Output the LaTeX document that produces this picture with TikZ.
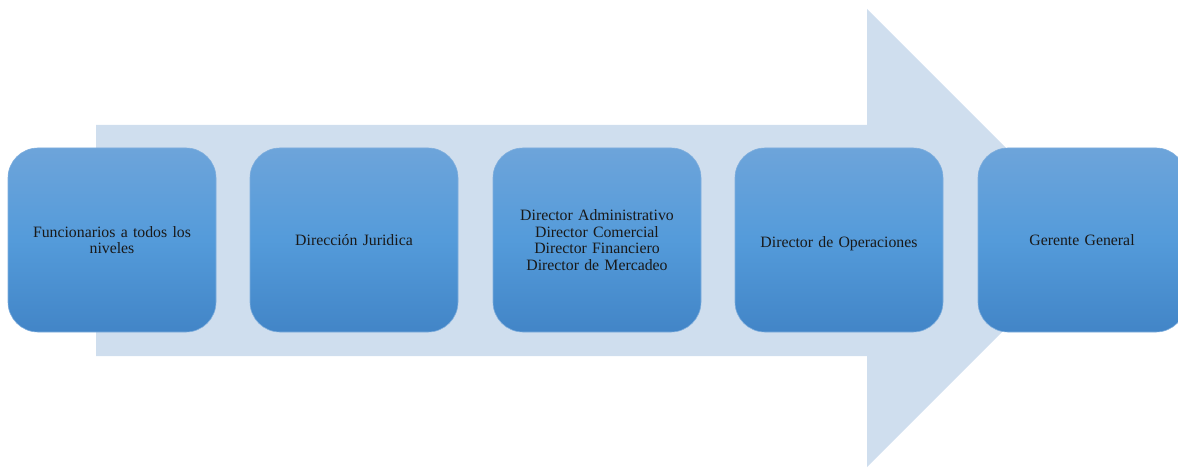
\documentclass[tikz,border=0pt]{standalone}
\usepackage{fontspec}
\setmainfont{Liberation Serif}
\definecolor{arrowfill}{HTML}{CFDEEE}
\definecolor{boxtop}{HTML}{6DA4DA}
\definecolor{boxmid}{HTML}{549BDA}
\definecolor{boxbot}{HTML}{4285C7}
\definecolor{boxline}{HTML}{7FAEDD}
\tikzset{
  stagebox/.style={rectangle, rounded corners=30pt, minimum width=208pt, minimum height=184pt,
    inner sep=0pt, top color=boxtop, bottom color=boxbot, middle color=boxmid,
    draw=boxline, line width=0.6pt, align=center, text width=190pt,
    font=\fontsize{15.8}{16.4}\selectfont, text=black!90}
}
\begin{document}
\begin{tikzpicture}[x=1pt,y=-1pt]
\useasboundingbox (0,0) rectangle (1178,468);
\clip (0,0) rectangle (1178,468);
\fill[arrowfill] (96,125) -- (867,125) -- (867,9) -- (1096,238) -- (867,467) -- (867,356) -- (96,356) -- cycle;
\node[stagebox] (b1) at (112,240) {Funcionarios a todos los\\niveles};
\node[stagebox] (b2) at (354,240) {Dirección Juridica};
\node[stagebox] (b3) at (597,240) {Director Administrativo\\Director Comercial\\Director Financiero\\Director de Mercadeo};
\node[stagebox] (b4) at (839,240) {\raisebox{-4pt}[\height][\depth]{Director de Operaciones}};
\node[stagebox] (b5) at (1082,240) {Gerente General};
\end{tikzpicture}
\end{document}
